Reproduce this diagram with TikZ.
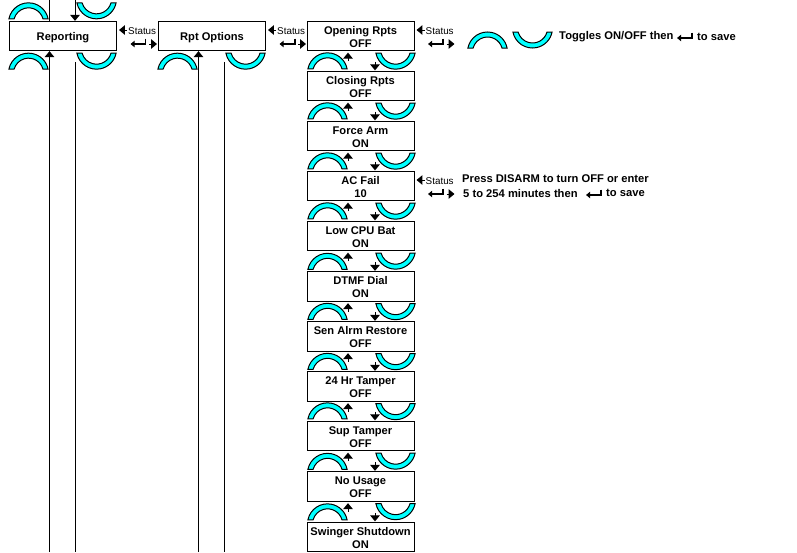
\documentclass[tikz,border=0pt]{standalone}
\usepackage{fontspec}
\setmainfont{Liberation Sans}
\usetikzlibrary{arrows.meta,calc}
\definecolor{archcyan}{RGB}{0,255,255}
\tikzset{
  menubox/.style={draw,line width=0.85pt,fill=white,minimum width=3.21cm,minimum height=0.88cm,inner sep=0pt,align=center,font=\fontsize{9.5}{11}\selectfont\bfseries},
  oneline/.style={menubox,text height=9.5pt},
  twolines/.style={menubox,text height=19.4pt,text depth=0pt},
  notetext/.style={anchor=west,inner sep=0pt,font=\fontsize{9.55}{11}\selectfont\bfseries},
  keytext/.style={anchor=west,inner sep=0pt,font=\fontsize{8.4}{10}\selectfont},
  wire/.style={line width=0.85pt},
  wirehead/.style={line width=0.85pt,-{Triangle[length=5pt,width=8pt]}},
  archup/.pic={
    \draw[line width=0.85pt,fill=archcyan] (-19.6,0) arc (168.5:11.5:20) -- (14.5,0) arc (15.5:164.5:15) -- cycle;
  },
  archdown/.pic={
    \draw[line width=0.85pt,fill=archcyan] (-19.6,0) arc (191.5:348.5:20) -- (14.5,0) arc (344.5:195.5:15) -- cycle;
  },
  enterkey/.pic={
    \draw[line width=1.7pt,-{Triangle[length=3.6pt,width=5.6pt]}] (15,5.5) -- (15,0) -- (0,0);
  },
  statuskeys/.pic={
    \coordinate (-back) at (10,6);
    \coordinate (-tip) at (2,6);
    \coordinate (-fwd) at (32,-8);
    \coordinate (-fwdtip) at (40,-8);
    \draw[wirehead] (-back) -- (-tip);
    \draw[wirehead] (-fwd) -- (-fwdtip);
    \node[keytext] (-label) at (11,5) {Status};
    \pic at (13.5,-8) {enterkey};
  }
}
\begin{document}
\begin{tikzpicture}[x=0.03cm,y=0.03cm]
\useasboundingbox (0,0) rectangle (797,-552);
% top row
\node[oneline] (reporting) at (63,-36) {Reporting};
\node[oneline] (rptoptions) at (212,-36) {Rpt Options};
% column of report options
\node[twolines] (opening) at (360.5,-36) {Opening Rpts\\OFF};
\node[twolines] (closing) at (360.5,-86) {Closing Rpts\\OFF};
\node[twolines] (forcearm) at (360.5,-136) {Force Arm\\ON};
\node[twolines] (acfail) at (360.5,-186) {AC Fail\\10};
\node[twolines] (lowbat) at (360.5,-236) {Low CPU Bat\\ON};
\node[twolines] (dtmf) at (360.5,-286.5) {DTMF Dial\\ON};
\node[twolines] (senalrm) at (360.5,-336.5) {Sen Alrm Restore\\OFF};
\node[twolines] (tamper) at (360.5,-386.5) {24 Hr Tamper\\OFF};
\node[twolines] (suptamper) at (360.5,-436) {Sup Tamper\\OFF};
\node[twolines] (nousage) at (360.5,-486.5) {No Usage\\OFF};
\node[twolines] (swinger) at (360.5,-537) {Swinger Shutdown\\ON};
% free ends of the long wires
\coordinate (reptopa) at (49.5,0);
\coordinate (reptopb) at (75,0);
\coordinate (repbota) at (49.5,-552);
\coordinate (repbotb) at (75,-552);
\coordinate (repstub) at (75,-62);
\coordinate (rptbota) at (198.5,-552);
\coordinate (rptbotb) at (224,-552);
\coordinate (rptstub) at (224,-62);
\draw[wire] (reptopa) -- (reptopa |- reporting.north);
\draw[wirehead] (reptopb) -- (reptopb |- reporting.north);
\draw[wirehead] (repbota) -- (repbota |- reporting.south);
\draw[wire] (repstub) -- (repbotb);
\draw[wirehead] (rptbota) -- (rptbota |- rptoptions.south);
\draw[wire] (rptstub) -- (rptbotb);
% arches round the first two boxes
\pic at ($(reporting.north)+(-34.5,2)$) {archup};
\pic at ($(reporting.north)+(33.5,18)$) {archdown};
\pic at ($(reporting.south)+(-34.5,-18)$) {archup};
\pic at ($(reporting.south)+(33.5,-2)$) {archdown};
\pic at ($(rptoptions.south)+(-34.5,-18)$) {archup};
\pic at ($(rptoptions.south)+(33.5,-2)$) {archdown};
% arches and short arrows between the column boxes
\foreach \upper/\lower in {opening/closing,closing/forcearm,forcearm/acfail,acfail/lowbat,lowbat/dtmf,dtmf/senalrm,senalrm/tamper,tamper/suptamper,suptamper/nousage,nousage/swinger} {
  \pic at ($(\lower.north)+(-33,2)$) {archup};
  \pic at ($(\upper.south)+(35,-2)$) {archdown};
  \draw[wirehead] ($(\upper.south)+(-12.5,-10)$) -- ($(\upper.south)+(-12.5,-1.5)$);
  \draw[wirehead] ($(\lower.north)+(14.5,9)$) -- ($(\lower.north)+(14.5,0.5)$);
}
% status keys
\pic (repkeys) at (reporting.east) {statuskeys};
\pic (rptkeys) at (rptoptions.east) {statuskeys};
\pic (openkeys) at (opening.east) {statuskeys};
\pic (ackeys) at (acfail.east) {statuskeys};
% notes
\pic at (487.5,-48) {archup};
\pic at (532.5,-32) {archdown};
\node[notetext] (togglenote) at (559,-37) {Toggles ON/OFF then};
\pic at (677,-38) {enterkey};
\node[notetext] (togglesave) at (697,-37) {to save};
\node[notetext] (disarmnote) at (462,-179) {Press DISARM to turn OFF or enter};
\node[notetext] (minutesnote) at (463,-193) {5 to 254 minutes then};
\pic at (586,-195) {enterkey};
\node[notetext] (minutessave) at (606,-193) {to save};
\end{tikzpicture}
\end{document}
